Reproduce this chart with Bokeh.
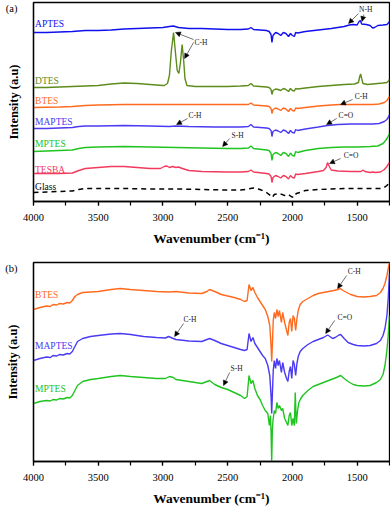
from bokeh.plotting import figure
from bokeh.layouts import column
from bokeh.models import Range1d, SingleIntervalTicker, FixedTicker, Label, Arrow, NormalHead
from bokeh.embed import file_html
from bokeh.resources import INLINE

FONT = "Liberation Serif"

# ---------------- Panel (a) data: (wavenumber cm-1, intensity a.u., offset) ----------------
aptes_a = [(4000,169),(3900,169),(3800,169.5),(3700,170),(3600,171),(3500,171),(3400,171.5),(3300,172.5),
           (3200,173),(3100,173.5),(3000,174),(2950,175),(2920,175.5),(2880,174),(2800,173),(2700,173),
           (2600,172.5),(2500,172),(2400,172),(2340,172.5),(2320,174),(2300,172),(2250,171.5),(2200,171),
           (2180,170),(2165,167),(2158,159),(2150,166),(2130,169),(2110,168),(2090,166),(2070,169),(2050,168),
           (2030,165),(2015,168),(2000,166),(1985,165),(1975,169),(1960,168.5),(1900,170),(1800,171.5),
           (1700,173),(1600,175),(1560,176.5),(1530,177),(1500,176.5),(1485,180),(1475,181),(1465,177.5),
           (1430,177),(1400,176),(1380,173.5),(1365,174),(1340,176),(1300,176.5),(1270,177),(1255,179),(1250,180)]
dtes_a = [(4000,114),(3900,114),(3800,114.5),(3700,115),(3600,115.5),(3500,116),(3400,117.5),(3300,118.5),
          (3200,118),(3100,117),(3000,116),(2990,116),(2965,118),(2950,126),(2935,151),(2918,169),(2905,151),
          (2890,131),(2877,128),(2865,139),(2852,157),(2840,141),(2830,123),(2815,116),(2750,115),(2600,115),
          (2500,115),(2400,115.5),(2340,116),(2320,118),(2300,115.5),(2250,115),(2200,114.5),(2180,114),
          (2165,112),(2158,107),(2150,111),(2130,112.5),(2110,112),(2090,111),(2070,113),(2050,112),(2030,110),
          (2015,113),(2000,111),(1985,110.5),(1975,113),(1960,112.5),(1900,113.5),(1800,115),(1700,116),
          (1600,117),(1520,117.5),(1490,119),(1480,125),(1473,127.5),(1465,123),(1455,118),(1420,117),
          (1380,117.5),(1340,118),(1300,118.5),(1270,119),(1255,121),(1250,122)]
btes_a = [(4000,94),(3800,94.5),(3700,95),(3600,96),(3500,96.5),(3300,97),(3100,97),(2900,97),(2700,97),
          (2500,97),(2400,97),(2340,97),(2320,98.5),(2300,96.5),(2200,95.5),(2180,95),(2165,93),(2158,88),
          (2150,92),(2130,93.5),(2110,92.5),(2090,91),(2070,93.5),(2050,92.5),(2030,90),(2015,93),(2000,91),
          (1985,90.5),(1975,93.5),(1960,93),(1900,94),(1800,95.5),(1700,96.5),(1630,97),(1550,97),(1450,97),
          (1380,97),(1330,97.5),(1290,99),(1270,101),(1260,103),(1250,105)]
maptes_a = [(4000,73),(3900,73),(3800,73.5),(3700,74),(3650,75),(3600,75.5),(3500,75.5),(3300,76),(3100,75.5),
            (2950,75),(2900,75.5),(2800,75),(2600,74.5),(2400,74.5),(2340,75),(2320,77),(2300,74.5),(2200,73.5),
            (2180,73),(2165,71),(2158,65),(2150,70),(2130,71.5),(2110,70.5),(2090,69),(2070,71.5),(2050,70.5),
            (2030,68),(2015,71),(2000,69),(1985,68.5),(1975,72),(1960,71),(1900,72.5),(1800,74.5),(1730,76),
            (1650,77),(1550,77.5),(1450,77.5),(1380,77.5),(1330,78),(1290,80),(1270,82),(1260,84),(1250,87)]
mptes_a = [(4000,50),(3900,50.5),(3800,51),(3700,51.5),(3650,53),(3600,54),(3500,54.5),(3300,55),(3100,54.5),
           (2900,54),(2700,53.5),(2500,53),(2400,53),(2340,53.5),(2320,55.5),(2300,53),(2200,51.5),(2180,51),
           (2165,48),(2158,41),(2150,47),(2130,49),(2110,48),(2090,46),(2070,49),(2050,48),(2030,45),
           (2015,48.5),(2000,46),(1985,45.5),(1975,50),(1960,49),(1900,51),(1800,53),(1700,54),(1600,54.5),
           (1500,54.5),(1400,55),(1340,55.5),(1300,58),(1280,61),(1265,64),(1250,68)]
tesba_a = [(4000,28),(3900,28),(3800,28),(3700,28.5),(3650,31),(3600,33),(3500,34),(3400,35),(3300,35),
           (3200,34),(3100,33),(3020,33),(2990,35),(2970,35.5),(2950,34),(2926,35),(2900,34),(2880,34.5),
           (2850,33),(2800,31),(2700,30),(2500,29.5),(2400,29.5),(2340,30),(2320,31.5),(2300,29.5),(2200,28),
           (2180,27.5),(2165,25),(2158,19),(2150,24),(2130,26),(2110,25),(2090,23.5),(2070,26),(2050,25),
           (2030,22.5),(2015,26),(2000,24),(1985,23.5),(1975,27.5),(1960,27),(1900,28),(1800,30),(1760,31),
           (1740,34),(1728,39),(1715,35),(1700,31.5),(1650,30.5),(1550,30),(1470,30),(1455,31.5),(1440,30),
           (1400,29),(1380,29.5),(1360,29),(1320,29.5),(1290,32),(1270,35),(1250,39)]
glass_a = [(4000,9),(3900,9.5),(3800,10),(3700,10.5),(3650,12),(3600,13),(3500,13),(3300,13),(3100,12.5),
           (2900,12.5),(2700,12),(2500,11.5),(2400,11.5),(2340,12.5),(2300,13.5),(2250,12),(2200,9),(2170,6),
           (2155,4),(2140,7),(2100,8),(2060,6),(2030,7),(2010,5),(1990,4),(1970,8),(1940,9),(1900,11),
           (1800,12),(1700,12.5),(1600,13),(1500,13),(1400,13),(1320,13),(1290,14),(1270,16),(1250,19)]

# ---------------- Panel (b) data ----------------
btes_b = [(4000,152),(3950,154),(3900,155.5),(3870,155),(3850,157),(3820,156.5),(3800,158),(3770,157.5),
          (3740,159),(3720,158.5),(3700,161),(3680,165),(3660,167),(3620,169),(3560,169.5),(3500,170),
          (3400,172),(3330,173),(3250,172),(3150,171),(3050,170),(2950,169.5),(2900,170),(2800,168.5),
          (2700,168),(2660,170),(2640,172),(2600,170),(2550,167),(2500,165.5),(2450,164),(2400,162),
          (2370,160),(2350,161),(2335,177),(2320,171),(2305,174),(2290,169),(2270,164),(2250,160),(2230,156),
          (2210,152),(2190,145),(2175,136),(2165,116),(2160,100),(2155,116),(2148,141),(2140,149),(2130,143),
          (2120,152),(2110,145),(2100,151),(2085,139),(2075,149),(2060,139),(2045,131),(2035,126),(2025,139),
          (2015,143),(2005,130),(1995,146),(1985,143),(1975,131),(1965,143),(1955,151),(1940,157),(1920,160),
          (1880,163),(1840,166),(1800,168),(1760,169),(1720,170),(1680,171),(1650,172),(1630,173),(1610,171),
          (1580,169),(1550,167),(1500,165),(1450,164.5),(1400,165),(1350,166),(1320,169),(1300,173),
          (1285,178),(1270,186),(1260,193),(1250,199)]
maptes_b = [(4000,101),(3950,103),(3900,104.5),(3870,104),(3850,106),(3820,105.5),(3800,107),(3770,106.5),
            (3740,108),(3720,107.5),(3700,110),(3680,115),(3660,120),(3620,123),(3560,125),(3500,126),
            (3400,127.5),(3330,128),(3250,127),(3150,125),(3050,124),(2980,123.5),(2957,125),(2930,123.5),
            (2900,122),(2800,120.5),(2700,120),(2660,122),(2640,123),(2600,121),(2550,118),(2500,116),
            (2450,114),(2400,112),(2370,111),(2350,112),(2335,128),(2320,120),(2305,124),(2290,118),(2270,114),
            (2250,110),(2230,106),(2210,103),(2190,96),(2175,86),(2165,66),(2160,48),(2155,66),(2148,91),
            (2140,101),(2130,93),(2120,103),(2110,96),(2100,101),(2085,89),(2075,99),(2060,89),(2045,83),
            (2035,80),(2025,90),(2015,95),(2005,83),(1995,101),(1985,97),(1975,86),(1965,98),(1955,105),
            (1940,110),(1920,113),(1880,117),(1840,120),(1800,122),(1760,124),(1728,126.5),(1710,125),
            (1690,123),(1670,124),(1640,126.5),(1627,127),(1600,123),(1570,119),(1530,117),(1500,116),
            (1450,115.5),(1400,116),(1350,118),(1320,121),(1300,126),(1285,133),(1270,146),(1260,163),(1250,188)]
mptes_b = [(4000,58),(3950,60),(3900,61),(3870,60.5),(3850,62),(3820,61.5),(3800,63),(3770,62.5),(3740,64),
           (3720,63.5),(3700,66),(3680,71),(3660,76),(3620,80),(3560,82),(3500,83),(3400,85),(3330,86),
           (3250,85),(3150,84),(3050,83),(2980,83),(2950,85),(2920,84),(2900,82),(2800,80),(2700,78),
           (2660,80),(2640,81),(2600,77),(2550,74),(2500,72),(2450,69),(2400,66),(2370,63),(2350,65),
           (2335,86),(2320,78),(2305,81),(2290,73),(2270,66),(2250,62),(2230,56),(2210,51),(2190,48),(2178,36),
           (2170,46),(2165,31),(2160,0),(2155,31),(2150,41),(2140,51),(2130,48),(2120,59),(2110,53),(2100,56),
           (2085,51),(2075,53),(2060,43),(2045,39),(2035,36),(2025,46),(2015,49),(2005,36),(1995,43),(1985,36),
           (1978,69),(1970,38),(1960,51),(1950,59),(1935,63),(1920,66),(1880,71),(1840,75),(1800,77),(1760,79),
           (1700,82),(1660,84),(1627,86),(1600,83),(1570,80),(1530,77),(1500,76),(1450,75.5),(1400,76),
           (1350,79),(1320,82),(1300,87),(1285,96),(1270,111),(1260,126),(1250,146)]

C_APTES = "#1010ee"
C_DTES = "#5e8c1c"
C_BTES = "#ff6a1e"
C_MAPTES = "#4a3af2"
C_MPTES = "#20c420"
C_TESBA = "#f23a5c"

series_a = [("APTES", aptes_a, C_APTES, 178, None), ("DTES", dtes_a, C_DTES, 121, None),
            ("BTES", btes_a, C_BTES, 101, None), ("MAPTES", maptes_a, C_MAPTES, 80, None),
            ("MPTES", mptes_a, C_MPTES, 58, None), ("TESBA", tesba_a, C_TESBA, 32, None),
            ("Glass", glass_a, "black", 15, "5 4")]
series_b = [("BTES", btes_b, C_BTES, 167, None), ("MAPTES", maptes_b, C_MAPTES, 116, None),
            ("MPTES", mptes_b, C_MPTES, 73, None)]

# annotations: (text, text_x, text_y, [(x0, y0, x1, y1), ...])
notes_a = [("N-H", 1485, 192, [(1490, 188, 1566, 178), (1448, 187, 1463, 180)]),
           ("C-H", 2756, 159, [(2764, 162, 2903, 169), (2764, 159, 2833, 143)]),
           ("C-H", 1519, 105, [(1535, 102, 1628, 97)]),
           ("C-H", 2802, 86, [(2810, 83, 2895, 77)]),
           ("C=O", 1643, 86, [(1658, 83, 1736, 77)]),
           ("S-H", 2470, 66, [(2485, 63, 2539, 55)]),
           ("C=O", 1604, 46, [(1628, 43, 1713, 38)])]
notes_b = [("C-H", 1573, 190, [(1581, 186, 1651, 173)]),
           ("C=O", 1651, 144, [(1674, 141, 1743, 128)]),
           ("C-H", 2841, 142, [(2841, 138, 2910, 125)]),
           ("S-H", 2478, 93, [(2485, 89, 2532, 76)])]

TAG_Y = 193


def make_panel(tag, series, notes, top, bottom):
    p = figure(frame_width=356, frame_height=199, x_range=Range1d(4000, 1250), y_range=Range1d(0, 199),
               output_backend="svg", toolbar_location=None, min_border_left=33, min_border_right=1,
               min_border_top=top, min_border_bottom=bottom, background_fill_color="white",
               border_fill_color="white")
    p.xgrid.visible = False
    p.ygrid.visible = False
    p.outline_line_color = "black"
    p.outline_line_width = 1.3
    p.outline_line_alpha = 1.0

    xa = p.xaxis[0]
    xa.ticker = SingleIntervalTicker(interval=500, num_minor_ticks=2)
    xa.major_tick_out = 4
    xa.major_tick_in = 0
    xa.minor_tick_out = 4
    xa.minor_tick_in = 0
    xa.axis_line_width = 1.3
    xa.major_tick_line_width = 1.2
    xa.minor_tick_line_width = 1.2
    xa.major_label_text_font = FONT
    xa.major_label_text_font_size = "10.5px"
    xa.major_label_text_color = "black"
    xa.major_label_standoff = 8
    xa.axis_label = "Wavenumber (cm⁻¹)"
    xa.axis_label_text_font = FONT
    xa.axis_label_text_font_style = "bold"
    xa.axis_label_text_font_size = "13.5px"
    xa.axis_label_text_color = "black"
    xa.axis_label_standoff = 7

    # y axis: no ticks; the panel tag "(a)"/"(b)" is drawn as its only tick label
    ya = p.yaxis[0]
    ya.ticker = FixedTicker(ticks=[TAG_Y])
    ya.major_label_overrides = {TAG_Y: tag}
    ya.major_label_orientation = "horizontal"
    ya.major_label_standoff = 16
    ya.major_label_text_font = FONT
    ya.major_label_text_font_size = "10.5px"
    ya.major_label_text_color = "black"
    ya.major_tick_line_color = None
    ya.minor_tick_line_color = None
    ya.major_tick_out = 0
    ya.major_tick_in = 0
    ya.axis_line_width = 1.3
    ya.axis_label = "Intensity (a.u)"
    ya.axis_label_text_font = FONT
    ya.axis_label_text_font_style = "bold"
    ya.axis_label_text_font_size = "12.5px"
    ya.axis_label_text_color = "black"
    ya.axis_label_standoff = -18

    for name, data, color, ly, dash in series:
        xs = [d[0] for d in data]
        ys = [d[1] for d in data]
        if dash:
            p.line(xs, ys, line_color=color, line_width=1.5, line_dash=dash)
        else:
            p.line(xs, ys, line_color=color, line_width=1.4)
        p.add_layout(Label(x=3988, y=ly, text=name, text_color=color, text_font=FONT,
                           text_font_size="9.5px", text_baseline="middle", text_align="left"))

    for text, tx, ty, arrows in notes:
        p.add_layout(Label(x=tx, y=ty, text=text, text_color="#222222", text_font=FONT,
                           text_font_size="7.5px", text_baseline="middle", text_align="left"))
        for x0, y0, x1, y1 in arrows:
            p.add_layout(Arrow(end=NormalHead(size=5, fill_color="black", line_color="black", line_width=0.5),
                               x_start=x0, y_start=y0, x_end=x1, y_end=y1,
                               line_color="#333333", line_width=0.7))
    return p


pa = make_panel("(a)", series_a, notes_a, 2, 48)
pb = make_panel("(b)", series_b, notes_b, 13, 46)
layout = column(pa, pb, spacing=0)

open("out.html", "w").write(file_html(layout, INLINE))
